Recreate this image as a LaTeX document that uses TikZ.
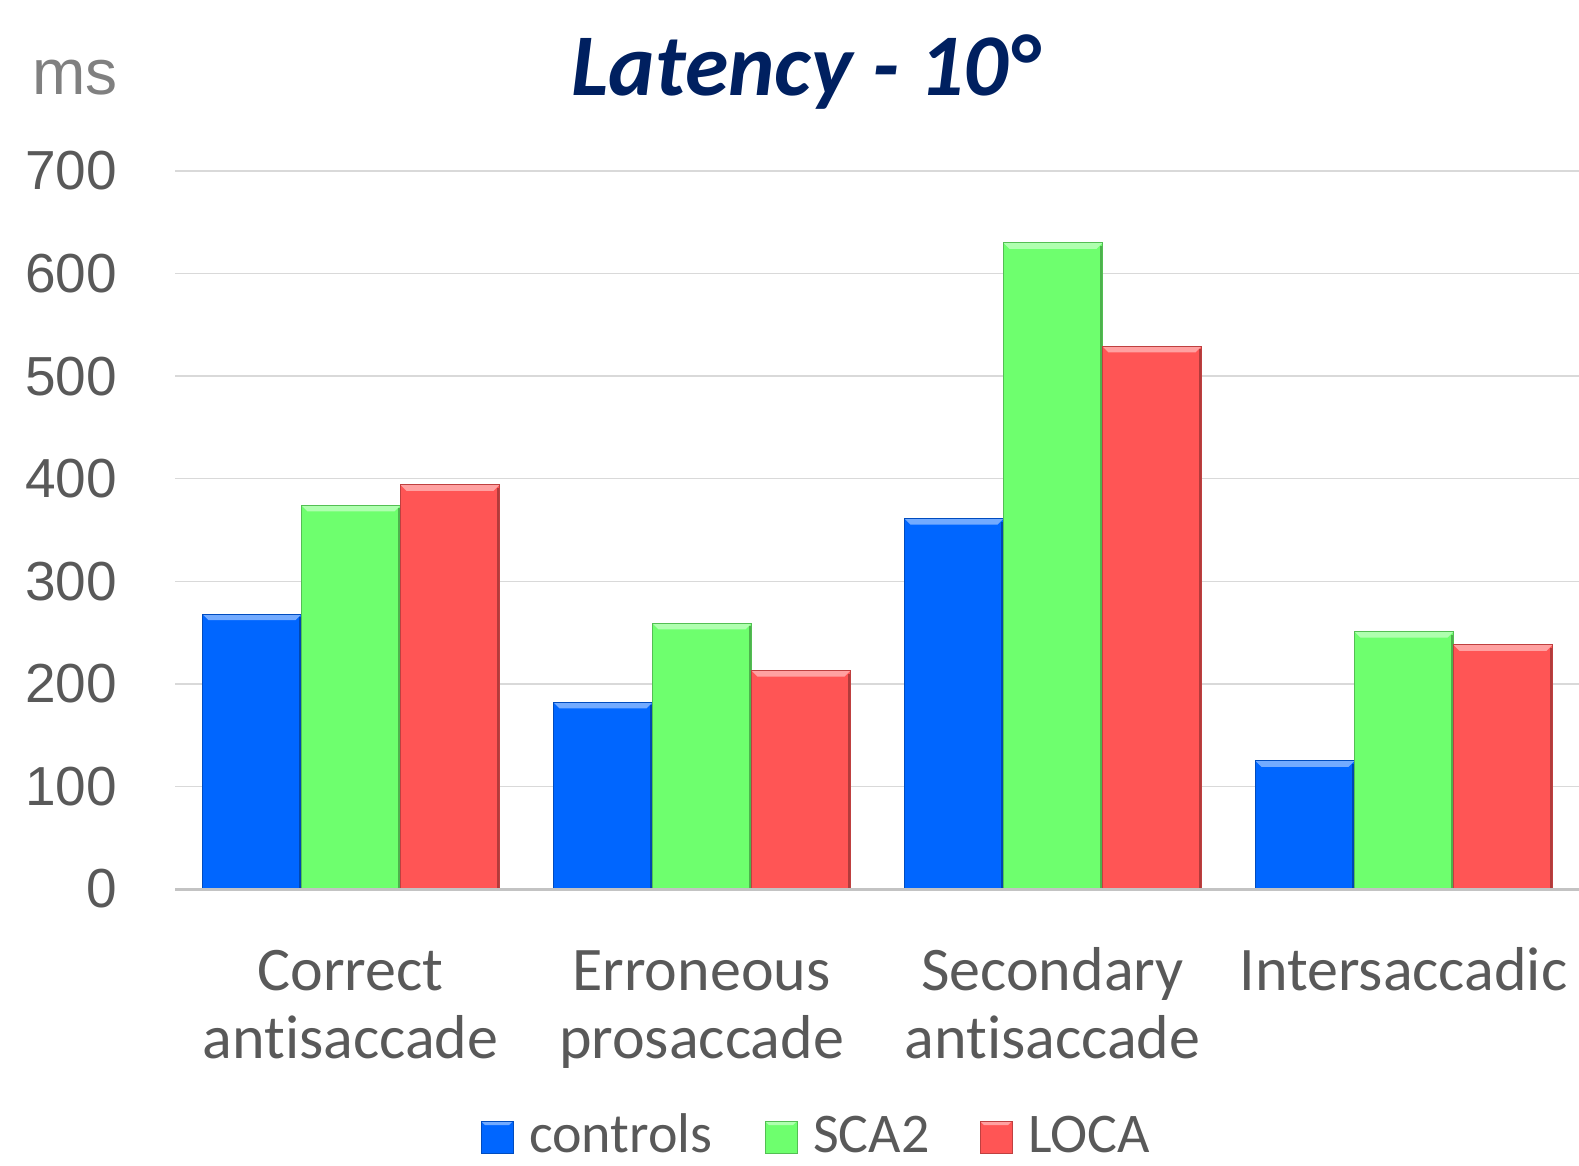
\documentclass[tikz,border=0pt]{standalone}
\usepackage{fontspec}
\setmainfont{Carlito}[RawFeature=-liga, RawFeature=-clig, RawFeature=-calt]
\newfontfamily\arialfont{Liberation Sans}

\definecolor{ctrlblue}{RGB}{0,102,255}
\definecolor{scagreen}{RGB}{110,255,110}
\definecolor{locared}{RGB}{255,85,85}
\definecolor{titleblue}{RGB}{0,32,96}
\definecolor{labelgray}{RGB}{89,89,89}
\definecolor{gridgray}{RGB}{217,217,217}

\tikzset{
  ticklabel/.style={anchor=east, inner sep=0pt, text=labelgray, font=\arialfont\fontsize{55}{60}\selectfont},
  catlabel/.style={anchor=base, inner sep=0pt, align=center, text=labelgray, font=\fontsize{62}{68}\selectfont},
  legtext/.style={anchor=base west, inner sep=0pt, text=labelgray, font=\fontsize{56}{60}\selectfont},
}

% one bar with a small bevel: left x, value, colour
\newcommand{\latbar}[3]{%
  \pgfmathsetmacro\xl{#1}%
  \pgfmathsetmacro\yt{889-1.0257*#2}%
  \fill[#3] (\xl,\yt) rectangle ({\xl+99},889);
  \fill[#3!55!white] (\xl,\yt) -- ({\xl+99},\yt) -- ({\xl+93},{\yt+6}) -- ({\xl+6},{\yt+6}) -- cycle;
  \fill[#3!70!black] ({\xl+96},{\yt+3}) rectangle ({\xl+99},889);
  \draw[#3!75!black, line width=1pt] (\xl,\yt) rectangle ({\xl+99},889);
}

\begin{document}
\begin{tikzpicture}[x=1pt,y=-1pt]
\useasboundingbox (0,0) rectangle (1579,1165);

% title and unit
\node[anchor=base, inner sep=0pt, text=titleblue, font=\fontsize{88}{90}\selectfont\bfseries\itshape] (title) at (805,95) {Latency - 10°};
\node[anchor=base west, inner sep=0pt, text=gray, font=\arialfont\fontsize{64}{66}\selectfont] (unit) at (32,94) {ms};

% grid and tick labels
\foreach \v in {100,200,...,700} {
  \draw[gridgray, line width=1.5pt] (175,{889-1.0257*\v}) -- (1579,{889-1.0257*\v});
}
\foreach \v in {0,100,...,700} {
  \node[ticklabel] (tick\v) at (117,{889-1.0257*\v}) {\v};
}

% bars
\foreach \g/\a/\b/\c in {0/268/374/394, 1/182/259/213, 2/361/630/529, 3/125/251/238} {
  \foreach \k/\v/\col in {0/\a/ctrlblue, 1/\b/scagreen, 2/\c/locared} {
    \latbar{175+351*\g+27.5+99*\k}{\v}{\col}
  }
}
\draw[gridgray!90!black, line width=3pt] (175,889) -- (1579,889);

% category labels (base = last line)
\node[catlabel] (cat1) at (350.5,1058) {Correct\\ant\kern0pt isaccade};
\node[catlabel] (cat2) at (701.5,1058) {Erroneous\\prosaccade};
\node[catlabel] (cat3) at (1052.5,1058) {Secondary\\ant\kern0pt isaccade};
\node[catlabel] (cat4) at (1403.5,990) {Intersaccadic};

% legend
\foreach \x/\col/\txt in {481/ctrlblue/controls, 765/scagreen/SCA2, 980/locared/LOCA} {
  \fill[\col] (\x,1121) rectangle ({\x+32},1153);
  \fill[\col!55!white] (\x,1121) -- ({\x+32},1121) -- ({\x+28},1125) -- ({\x+4},1125) -- cycle;
  \draw[\col!75!black, line width=1pt] (\x,1121) rectangle ({\x+32},1153);
  \node[legtext] (leg\txt) at ({\x+48},1152) {\txt};
}
\end{tikzpicture}
\end{document}
